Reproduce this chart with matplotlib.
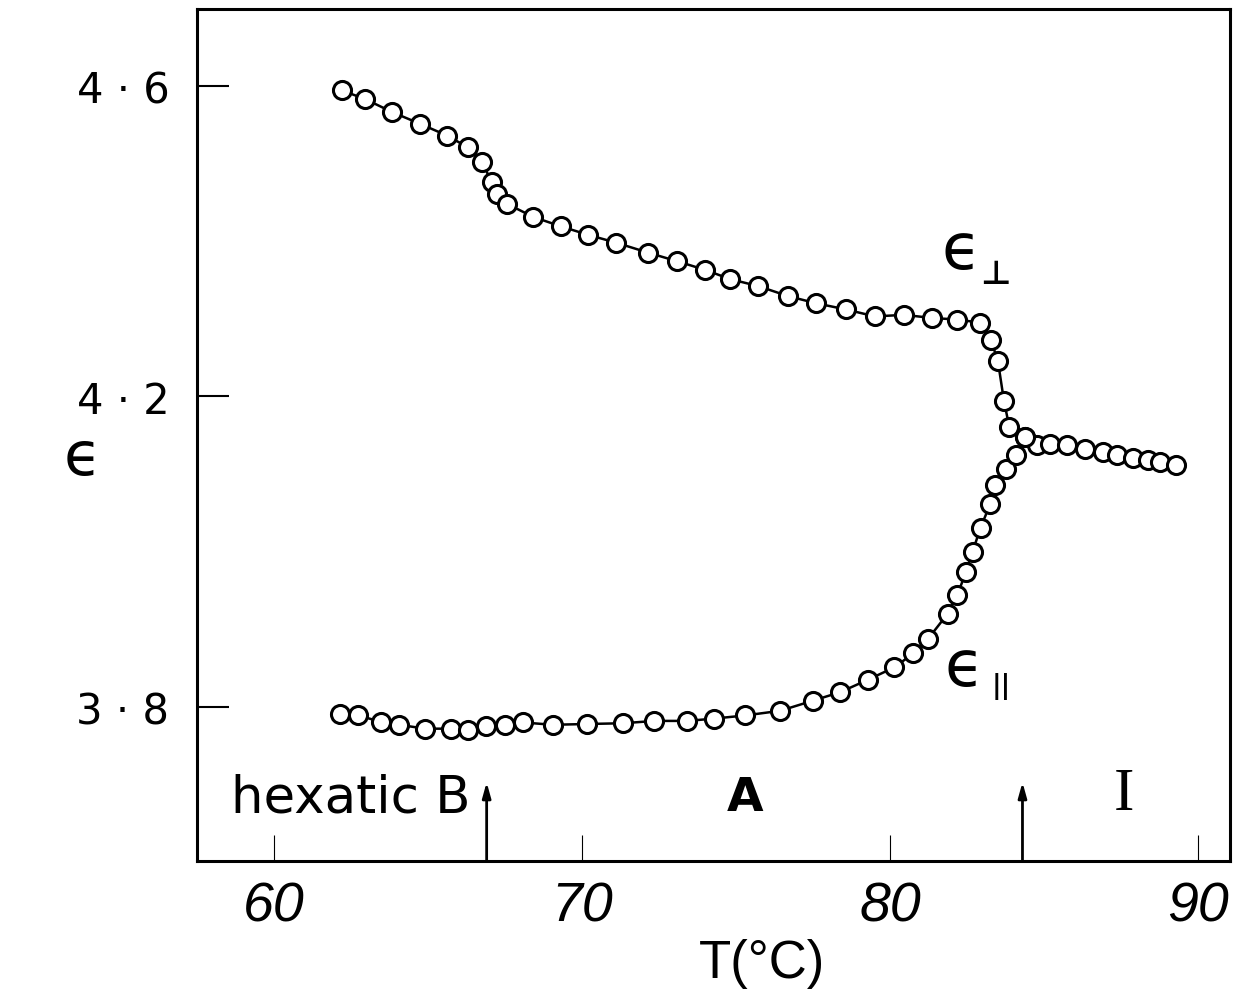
import numpy as np
import matplotlib
matplotlib.use('Agg')
from matplotlib import pyplot as plt

# eps_perp (upper branch), joins the isotropic branch at ~84.4 C
t_perp = [62.20, 62.95, 63.84, 64.74, 65.61, 66.28, 66.74, 67.07, 67.23, 67.56,
          68.42, 69.31, 70.20, 71.10, 72.15, 73.09, 73.99, 74.81, 75.72, 76.70,
          77.59, 78.56, 79.51, 80.46, 81.35, 82.17, 82.92, 83.27, 83.50, 83.70,
          83.87, 84.38, 84.76, 85.19, 85.74, 86.33, 86.91, 87.36, 87.88, 88.39,
          88.77, 89.29]
e_perp = [4.594, 4.583, 4.566, 4.551, 4.536, 4.521, 4.502, 4.476, 4.461, 4.448,
          4.431, 4.419, 4.408, 4.398, 4.385, 4.374, 4.363, 4.351, 4.342, 4.329,
          4.320, 4.312, 4.303, 4.305, 4.301, 4.299, 4.295, 4.273, 4.246, 4.194,
          4.161, 4.148, 4.137, 4.139, 4.137, 4.132, 4.128, 4.124, 4.120, 4.118,
          4.116, 4.111]

# eps_par (lower branch)
t_par = [62.14, 62.72, 63.46, 64.06, 64.90, 65.74, 66.31, 66.88, 67.48, 68.09,
         69.04, 70.15, 71.34, 72.35, 73.42, 74.29, 75.29, 76.43, 77.49, 78.38,
         79.28, 80.14, 80.76, 81.24, 81.87, 82.18, 82.47, 82.68, 82.94, 83.25,
         83.41, 83.77, 84.09, 84.38]
e_par = [3.791, 3.789, 3.781, 3.777, 3.772, 3.772, 3.770, 3.776, 3.777, 3.780,
         3.777, 3.778, 3.779, 3.782, 3.782, 3.785, 3.789, 3.795, 3.808, 3.819,
         3.835, 3.851, 3.869, 3.888, 3.920, 3.944, 3.974, 4.000, 4.031, 4.061,
         4.086, 4.106, 4.125, 4.148]

xticks = [60, 70, 80, 90]
yticks = [3.8, 4.2, 4.6]
ytick_labels = ['3 · 8', '4 · 2', '4 · 6']
transitions = [66.9, 84.3]   # hexatic B -> A, A -> I
phases = ['hexatic B', 'A', 'I']

fig = plt.figure(figsize=(12.48, 9.95), dpi=100)
ax = fig.add_axes([0.158, 0.1337, 0.8276, 0.8563])

ax.plot(t_perp, e_perp, '-', color='black', lw=1.8, marker='o', ms=13,
        mfc='white', mec='black', mew=2.2)
ax.plot(t_par, e_par, '-', color='black', lw=1.8, marker='o', ms=13,
        mfc='white', mec='black', mew=2.2)

ax.set_xlim(57.5, 91.04)
ax.set_ylim(3.6016, 4.699)

for s in ax.spines.values():
    s.set_linewidth(2.2)

ax.set_xticks(xticks)
ax.set_xticklabels([str(v) for v in xticks], fontsize=40, style='italic',
                   family=['Liberation Sans', 'DejaVu Sans'])
ax.set_yticks(yticks)
ax.set_yticklabels(ytick_labels, fontsize=30, family='DejaVu Sans')
ax.tick_params(axis='x', direction='in', length=19, width=0.8, pad=14)
ax.tick_params(axis='y', direction='in', length=23, width=1.5, pad=20)

ax.set_xlabel('T(°C)', fontsize=38, family=['Liberation Sans', 'DejaVu Sans'])
ax.xaxis.set_label_coords(0.547, -0.09)
ax.set_ylabel('ϵ', fontsize=44, rotation=0, family='DejaVu Sans',
              va='center', ha='center')
ax.yaxis.set_label_coords(-0.111, 0.474)

# phase transition arrows
for tt in transitions:
    ax.annotate('', xy=(tt, 3.703), xytext=(tt, 3.6016),
                arrowprops=dict(arrowstyle='-|>,head_length=0.9,head_width=0.25',
                                color='black', lw=2.0, shrinkA=0, shrinkB=0))

ax.text(62.5, 3.683, phases[0], fontsize=37, ha='center', va='center')
ax.text(75.3, 3.683, phases[1], fontsize=34, ha='center', va='center',
        weight='bold')
ax.text(87.6, 3.687, phases[2], fontsize=44, ha='center', va='center',
        family='Liberation Serif')

# curve labels: epsilon with perpendicular / parallel subscripts
ax.text(82.31, 4.389, 'ϵ', fontsize=46, ha='center', va='center')
ax.text(83.42, 4.358, '⊥', fontsize=24, ha='center', va='center', weight='bold')
ax.text(82.40, 3.852, 'ϵ', fontsize=46, ha='center', va='center')
ax.text(83.60, 3.828, '||', fontsize=19, ha='center', va='center', weight='bold')

fig.savefig('out.png', dpi=100)
